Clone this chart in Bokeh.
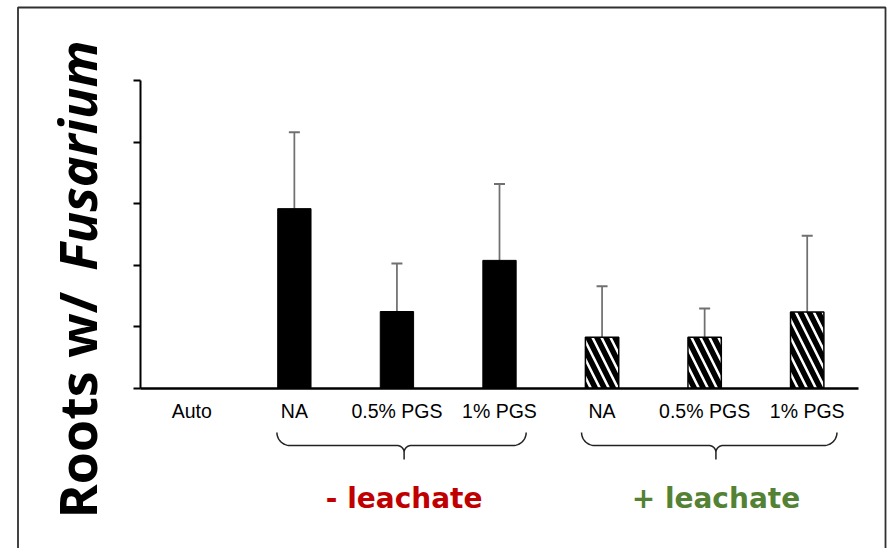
import numpy as np
from bokeh.plotting import figure
from bokeh.models import ColumnDataSource, FixedTicker, Whisker, TeeHead, Range1d
from bokeh.core.properties import value
from bokeh.embed import file_html
from bokeh.resources import INLINE

# ---- data -------------------------------------------------------------
categories = ["Auto", "NA", "0.5% PGS", "1% PGS", "NA", "0.5% PGS", "1% PGS"]
leachate = ["none", "-", "-", "-", "+", "+", "+"]
means = [0.0, 2.92, 1.25, 2.08, 0.83, 0.83, 1.24]
errors = [0.0, 1.24, 0.78, 1.24, 0.83, 0.47, 1.24]
group_labels = ["- leachate", "+ leachate"]
group_colors = ["#C00000", "#548235"]
y_ticks = [0, 1, 2, 3, 4, 5]

# ---- layout -----------------------------------------------------------
W, H = 888, 548
LEFT, RIGHT, TOP, BOTTOM = 140, 30, 80, 160
X0, X1 = -0.5, len(categories) - 0.5
Y0, Y1 = y_ticks[0], y_ticks[-1]
FW, FH = W - LEFT - RIGHT, H - TOP - BOTTOM
KX, KY = (X1 - X0) / FW, (Y1 - Y0) / FH


def sx(px):
    """canvas pixel column -> data x"""
    return X0 + (px - LEFT) * KX


def sy(py):
    """canvas pixel row -> data y"""
    return Y1 - (py - TOP) * KY


def px_of(x):
    return LEFT + (x - X0) / KX


BAR_W = 0.325
# extent and tip of the two curly braces, in category units
braces = [(0.83, 3.26, 2.07), (3.80, 6.29, 5.11)]

p = figure(width=W, height=H, x_range=Range1d(X0, X1), y_range=Range1d(Y0, Y1),
           output_backend="svg", toolbar_location=None,
           min_border_left=LEFT, min_border_right=RIGHT,
           min_border_top=TOP, min_border_bottom=BOTTOM)
p.outline_line_color = None
p.grid.visible = False
p.background_fill_color = "white"
p.border_fill_color = "white"

xs = list(range(len(categories)))

# solid bars (without leachate)
solid = [i for i in xs if leachate[i] == "-"]
p.vbar(x=[xs[i] for i in solid], top=[means[i] for i in solid], width=BAR_W,
       fill_color="black", line_color="black", line_width=1)

# hatched bars (with leachate)
hatched = [i for i in xs if leachate[i] == "+"]
p.vbar(x=[xs[i] for i in hatched], top=[means[i] for i in hatched], width=BAR_W,
       fill_color="white", line_color="black", line_width=1.5,
       hatch_pattern="left_diagonal_line", hatch_color="black",
       hatch_weight=5.5, hatch_scale=18)

# upper error bars
eb = [i for i in xs if errors[i] > 0]
err_src = ColumnDataSource(dict(
    x=[xs[i] for i in eb],
    lo=[means[i] for i in eb],
    hi=[means[i] + errors[i] for i in eb],
))
p.add_layout(Whisker(base="x", lower="lo", upper="hi", source=err_src,
                     dimension="height", line_color="#707070", line_width=1.75,
                     upper_head=TeeHead(size=11, line_color="#707070", line_width=2),
                     lower_head=None))

# axes
p.xaxis.ticker = FixedTicker(ticks=xs)
p.xaxis.major_label_overrides = {i: c for i, c in enumerate(categories)}
p.xaxis.axis_line_width = 2.5
p.xaxis.axis_line_color = "black"
p.xaxis.major_tick_line_color = None
p.xaxis.minor_tick_line_color = None
p.xaxis.major_tick_out = 0
p.xaxis.major_tick_in = 0
p.xaxis.major_label_standoff = 11
p.xaxis.major_label_text_font = "Liberation Sans"
p.xaxis.major_label_text_font_size = "19.5px"
p.xaxis.major_label_text_color = "black"

p.yaxis.ticker = FixedTicker(ticks=y_ticks)
p.yaxis.axis_line_width = 2
p.yaxis.axis_line_color = "black"
p.yaxis.major_tick_line_width = 2
p.yaxis.major_tick_line_color = "black"
p.yaxis.major_tick_out = 7
p.yaxis.major_tick_in = 0
p.yaxis.minor_tick_line_color = None
p.yaxis.major_label_text_color = None


# curly braces grouping the leachate treatments
def brace_path(px0, px1, pxc, top=432, mid=445, tip=459, rm=7):
    re_ = mid - top
    t = np.linspace(0, np.pi / 2, 14)
    bx = list(px0 + re_ - re_ * np.cos(t))
    by = list(top + re_ * np.sin(t))
    bx += list(pxc - rm + rm * np.sin(t))
    by += list(mid + rm - rm * np.cos(t))
    bx += [pxc, pxc]
    by += [tip, mid + rm]
    tr = t[::-1]
    bx += list(pxc + rm - rm * np.sin(tr))
    by += list(mid + rm - rm * np.cos(tr))
    bx += list(px1 - re_ + re_ * np.cos(tr))
    by += list(top + re_ * np.sin(tr))
    return [sx(v) for v in bx], [sy(v) for v in by]


for (b0, b1, bc), txt, col in zip(braces, group_labels, group_colors):
    bx, by = brace_path(px_of(b0), px_of(b1), px_of(bc))
    p.line(bx, by, line_color="#222222", line_width=1.5, level="overlay")
    p.text(x=[bc], y=[sy(498)], text=[txt], text_align="center",
           text_baseline="alphabetic", text_font=value("DejaVu Sans"),
           text_font_style="bold", text_font_size="28px",
           text_color=col, level="overlay")

# rotated y-axis title
p.text(x=[sx(76)], y=[sy(518)], text=["Roots w/"], angle=np.pi / 2,
       text_align="left", text_baseline="alphabetic",
       text_font=value("Open Sans"), text_font_style="bold",
       text_font_size="52px", text_color="black", level="overlay")
p.text(x=[sx(76)], y=[sy(40)], text=["Fusarium"], angle=np.pi / 2,
       text_align="right", text_baseline="alphabetic",
       text_font=value("Open Sans"), text_font_style="bold italic",
       text_font_size="52px", text_color="black", level="overlay")

# frame around the slide
p.quad(left=[sx(17.5)], right=[sx(885)], top=[sy(7)], bottom=[sy(580)],
       fill_color=None, line_color="#303030", line_width=1.8, level="overlay")

open("out.html", "w").write(file_html(p, INLINE))
